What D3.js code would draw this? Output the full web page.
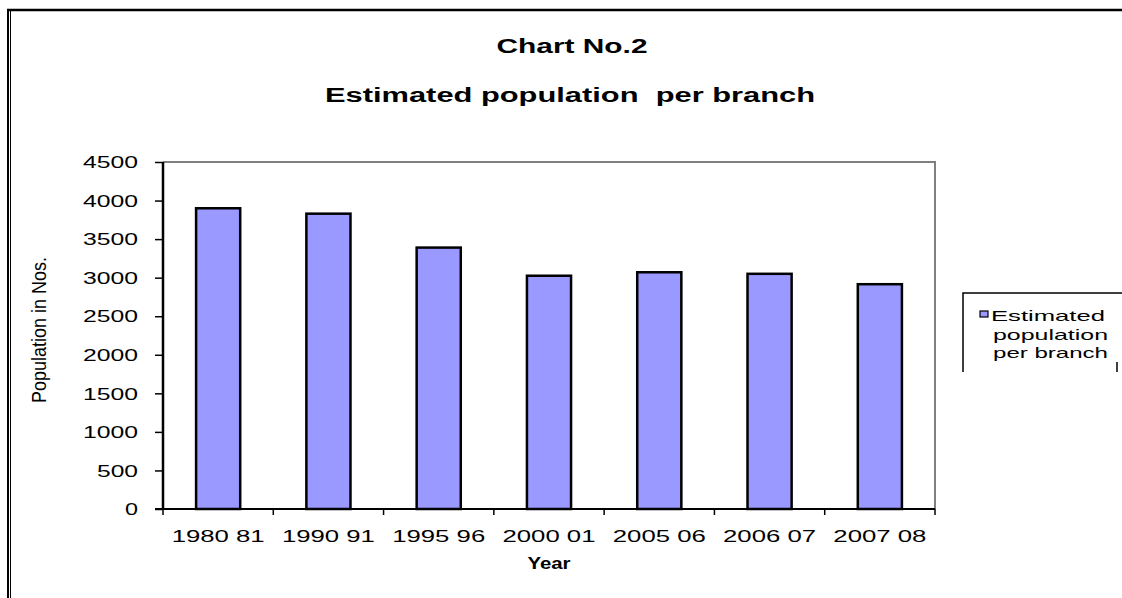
<!DOCTYPE html>
<html>
<head>
<meta charset="utf-8">
<script src="https://cdn.jsdelivr.net/npm/d3@7"></script>
<style>
  html, body { margin: 0; padding: 0; background: #fff; }
  svg { display: block; }
  text { font-family: "Liberation Sans", Arial, sans-serif; fill: #000; }
</style>
</head>
<body>
<script>
// data
const years = ["1980 81", "1990 91", "1995 96", "2000 01", "2005 06", "2006 07", "2007 08"];
const popPerBranch = [3900, 3830, 3390, 3025, 3070, 3050, 2915];
const yTicks = [0, 500, 1000, 1500, 2000, 2500, 3000, 3500, 4000, 4500];
const legendLines = ["Estimated", "population", "per branch"];

const W = 1122, H = 598;
const plot = { left: 163, top: 162, right: 935, bottom: 509 };

let svg = d3.select("body")
    .append("svg")
    .attr("width", W)
    .attr("height", H);

// outer frame (double line on the left)
svg.append("line").attr("x1", 7).attr("y1", 10).attr("x2", W).attr("y2", 10)
    .attr("stroke", "#000").attr("stroke-width", 2.5);
svg.append("line").attr("x1", 8).attr("y1", 9).attr("x2", 8).attr("y2", H)
    .attr("stroke", "#000").attr("stroke-width", 2);
svg.append("line").attr("x1", 10.5).attr("y1", 11).attr("x2", 10.5).attr("y2", H)
    .attr("stroke", "#000").attr("stroke-width", 1);

// titles
svg.append("text")
    .attr("x", 572).attr("y", 53)
    .attr("text-anchor", "middle")
    .attr("font-size", 20).attr("font-weight", "bold")
    .attr("textLength", 151).attr("lengthAdjust", "spacingAndGlyphs")
    .text("Chart No.2");
svg.append("text")
    .attr("x", 570).attr("y", 102)
    .attr("text-anchor", "middle")
    .attr("font-size", 20).attr("font-weight", "bold")
    .attr("textLength", 490).attr("lengthAdjust", "spacingAndGlyphs")
    .attr("xml:space", "preserve")
    .text("Estimated population  per branch");

let x = d3.scaleBand()
    .domain(years)
    .range([plot.left, plot.right])
    .paddingInner(0.6)
    .paddingOuter(0.3);

let y = d3.scaleLinear()
    .domain([0, 4500])
    .range([plot.bottom, plot.top]);

// plot area border (grey top/right)
svg.append("path")
    .attr("d", `M${plot.left},${plot.top}H${plot.right}V${plot.bottom}`)
    .attr("fill", "none")
    .attr("stroke", "#808080")
    .attr("stroke-width", 2);

// bars
svg.selectAll("rect.bar")
    .data(popPerBranch)
    .enter().append("rect")
    .attr("class", "bar")
    .attr("x", (d, i) => x(years[i]))
    .attr("y", d => y(d))
    .attr("width", x.bandwidth())
    .attr("height", d => y(0) - y(d))
    .attr("fill", "#9999ff")
    .attr("stroke", "#000")
    .attr("stroke-width", 2.5);

// y axis
let yAxis = svg.append("g")
    .attr("transform", `translate(${plot.left},0)`)
    .call(d3.axisLeft(y).tickValues(yTicks).tickSize(8).tickFormat(d3.format("d")));
yAxis.select(".domain").attr("stroke", "#000").attr("stroke-width", 2.5)
    .attr("d", `M0,${plot.top}V${plot.bottom}`);
yAxis.selectAll(".tick line").attr("stroke", "#000").attr("stroke-width", 1.5);
yAxis.selectAll(".tick text")
    .attr("x", -25)
    .attr("dy", "0.36em")
    .attr("font-size", 16)
    .attr("font-family", "Liberation Sans, Arial, sans-serif")
    .attr("textLength", d => String(d).length * 14 - 1)
    .attr("lengthAdjust", "spacingAndGlyphs");

// x axis: ticks between categories
let bounds = years.map((c, i) => plot.left + i * (plot.right - plot.left) / years.length);
bounds.push(plot.right);
svg.append("line")
    .attr("x1", plot.left - 8).attr("x2", plot.right)
    .attr("y1", plot.bottom).attr("y2", plot.bottom)
    .attr("stroke", "#000").attr("stroke-width", 2);
svg.selectAll("line.xtick")
    .data(bounds)
    .enter().append("line")
    .attr("class", "xtick")
    .attr("x1", d => d).attr("x2", d => d)
    .attr("y1", plot.bottom).attr("y2", plot.bottom + 6)
    .attr("stroke", "#000").attr("stroke-width", 1.5);
svg.selectAll("text.xlab")
    .data(years)
    .enter().append("text")
    .attr("class", "xlab")
    .attr("x", d => x(d) + x.bandwidth() / 2)
    .attr("y", 542)
    .attr("text-anchor", "middle")
    .attr("font-size", 16)
    .attr("textLength", 93)
    .attr("lengthAdjust", "spacingAndGlyphs")
    .attr("xml:space", "preserve")
    .text(d => d);

// axis titles
svg.append("text")
    .attr("x", 549).attr("y", 569)
    .attr("text-anchor", "middle")
    .attr("font-size", 16).attr("font-weight", "bold")
    .attr("textLength", 43).attr("lengthAdjust", "spacingAndGlyphs")
    .text("Year");
svg.append("text")
    .attr("transform", "translate(46,330) rotate(-90)")
    .attr("text-anchor", "middle")
    .attr("font-size", 21)
    .attr("textLength", 146).attr("lengthAdjust", "spacingAndGlyphs")
    .text("Population in Nos.");

// legend (box is cut off at the right)
let lg = svg.append("g");
lg.append("path")
    .attr("d", "M963,372V293H1122")
    .attr("fill", "none").attr("stroke", "#000").attr("stroke-width", 1.5);
lg.append("line")
    .attr("x1", 1117).attr("x2", 1117).attr("y1", 362).attr("y2", 372)
    .attr("stroke", "#000").attr("stroke-width", 1.5);
lg.append("rect")
    .attr("x", 980).attr("y", 311).attr("width", 8).attr("height", 6)
    .attr("fill", "#9999ff").attr("stroke", "#000").attr("stroke-width", 1.2);
lg.selectAll("text")
    .data(legendLines)
    .enter().append("text")
    .attr("x", (d, i) => i === 0 ? 991 : 993)
    .attr("y", (d, i) => 321 + i * 18.5)
    .attr("font-size", 15)
    .attr("textLength", (d, i) => i === 0 ? 114 : 115)
    .attr("lengthAdjust", "spacingAndGlyphs")
    .text(d => d);
</script>
</body>
</html>
